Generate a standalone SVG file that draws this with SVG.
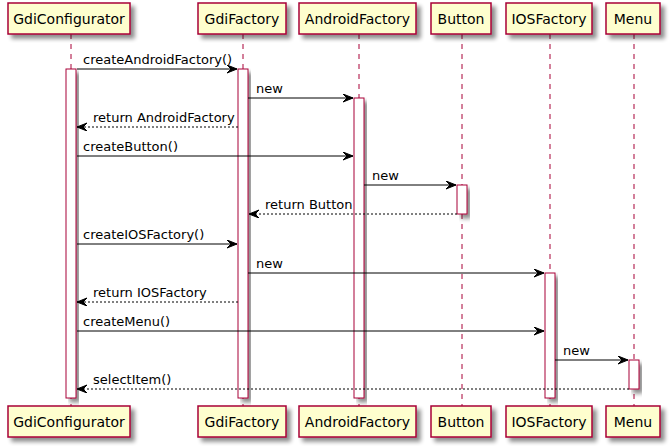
<svg xmlns="http://www.w3.org/2000/svg" width="669" height="447" viewBox="0 0 669 447">
<defs>
<filter id="sh" x="-20%" y="-20%" width="150%" height="150%">
<feGaussianBlur in="SourceAlpha" stdDeviation="2"/>
<feOffset dx="4" dy="4" result="b"/>
<feComponentTransfer><feFuncA type="linear" slope="0.45"/></feComponentTransfer>
<feMerge><feMergeNode/><feMergeNode in="SourceGraphic"/></feMerge>
</filter>
<marker id="ah" markerWidth="12" markerHeight="10" refX="10" refY="4" orient="auto" markerUnits="userSpaceOnUse">
<polygon points="0,0 10,4 0,8 4,4" fill="#000" stroke="#000" stroke-width="1"/>
</marker>
</defs>
<style>
.box{fill:#FEFECE;stroke:#A80036;stroke-width:1.5;filter:url(#sh)}
.life{stroke:#A80036;stroke-width:1;stroke-dasharray:5,5}
.act{fill:#FFFFFF;stroke:#A80036;stroke-width:1;filter:url(#sh)}
.pt{font-family:"DejaVu Sans",sans-serif;font-size:14px;fill:#000;text-anchor:middle}
.mt{font-family:"DejaVu Sans",sans-serif;font-size:13px;fill:#000}
.msg{stroke:#000;stroke-width:1;fill:none;marker-end:url(#ah)}
.ret{stroke:#000;stroke-width:1;fill:none;stroke-dasharray:2,2;marker-end:url(#ah)}
</style>
<g id="lifelines">
<line class="life" x1="71" y1="34" x2="71" y2="406"/>
<line class="life" x1="243" y1="34" x2="243" y2="406"/>
<line class="life" x1="359" y1="34" x2="359" y2="406"/>
<line class="life" x1="462" y1="34" x2="462" y2="406"/>
<line class="life" x1="550" y1="34" x2="550" y2="406"/>
<line class="life" x1="634" y1="34" x2="634" y2="406"/>
</g>
<g id="activations">
<rect class="act" x="66" y="69" width="10" height="329"/>
<rect class="act" x="238" y="69" width="10" height="329"/>
<rect class="act" x="354" y="98" width="10" height="300"/>
<rect class="act" x="457" y="185" width="10" height="29"/>
<rect class="act" x="545" y="273" width="10" height="125"/>
<rect class="act" x="629" y="360" width="10" height="29"/>
</g>
<g id="GdiConfigurator">
<rect class="box" x="8" y="3" width="122" height="31"/>
<text class="pt" x="69" y="23.5">GdiConfigurator</text>
<rect class="box" x="8" y="406" width="122" height="31"/>
<text class="pt" x="69" y="426.5">GdiConfigurator</text>
</g>
<g id="GdiFactory">
<rect class="box" x="198" y="3" width="88" height="31"/>
<text class="pt" x="242" y="23.5">GdiFactory</text>
<rect class="box" x="198" y="406" width="88" height="31"/>
<text class="pt" x="242" y="426.5">GdiFactory</text>
</g>
<g id="AndroidFactory">
<rect class="box" x="299" y="3" width="117" height="31"/>
<text class="pt" x="357.5" y="23.5">AndroidFactory</text>
<rect class="box" x="299" y="406" width="117" height="31"/>
<text class="pt" x="357.5" y="426.5">AndroidFactory</text>
</g>
<g id="Button">
<rect class="box" x="431" y="3" width="60" height="31"/>
<text class="pt" x="461" y="23.5">Button</text>
<rect class="box" x="431" y="406" width="60" height="31"/>
<text class="pt" x="461" y="426.5">Button</text>
</g>
<g id="IOSFactory">
<rect class="box" x="506" y="3" width="86" height="31"/>
<text class="pt" x="549" y="23.5">IOSFactory</text>
<rect class="box" x="506" y="406" width="86" height="31"/>
<text class="pt" x="549" y="426.5">IOSFactory</text>
</g>
<g id="Menu">
<rect class="box" x="606" y="3" width="54" height="31"/>
<text class="pt" x="633" y="23.5">Menu</text>
<rect class="box" x="606" y="406" width="54" height="31"/>
<text class="pt" x="633" y="426.5">Menu</text>
</g>
<g id="connectors">
<line class="msg" x1="77" y1="69" x2="237" y2="69"/>
<text class="mt" x="83" y="64">createAndroidFactory()</text>
<line class="msg" x1="248" y1="98" x2="353" y2="98"/>
<text class="mt" x="256" y="93">new</text>
<line class="ret" x1="238" y1="127" x2="77" y2="127"/>
<text class="mt" x="93" y="122">return AndroidFactory</text>
<line class="msg" x1="77" y1="156" x2="353" y2="156"/>
<text class="mt" x="83" y="151">createButton()</text>
<line class="msg" x1="364" y1="185" x2="456" y2="185"/>
<text class="mt" x="372" y="180">new</text>
<line class="ret" x1="457" y1="214" x2="249" y2="214"/>
<text class="mt" x="265" y="209">return Button</text>
<line class="msg" x1="77" y1="244" x2="237" y2="244"/>
<text class="mt" x="83" y="239">createIOSFactory()</text>
<line class="msg" x1="248" y1="273" x2="544" y2="273"/>
<text class="mt" x="256" y="268">new</text>
<line class="ret" x1="238" y1="302" x2="77" y2="302"/>
<text class="mt" x="93" y="297">return IOSFactory</text>
<line class="msg" x1="77" y1="331" x2="544" y2="331"/>
<text class="mt" x="83" y="326">createMenu()</text>
<line class="msg" x1="555" y1="360" x2="628" y2="360"/>
<text class="mt" x="563" y="355">new</text>
<line class="ret" x1="629" y1="389" x2="77" y2="389"/>
<text class="mt" x="93" y="384">selectItem()</text>
</g>
</svg>
